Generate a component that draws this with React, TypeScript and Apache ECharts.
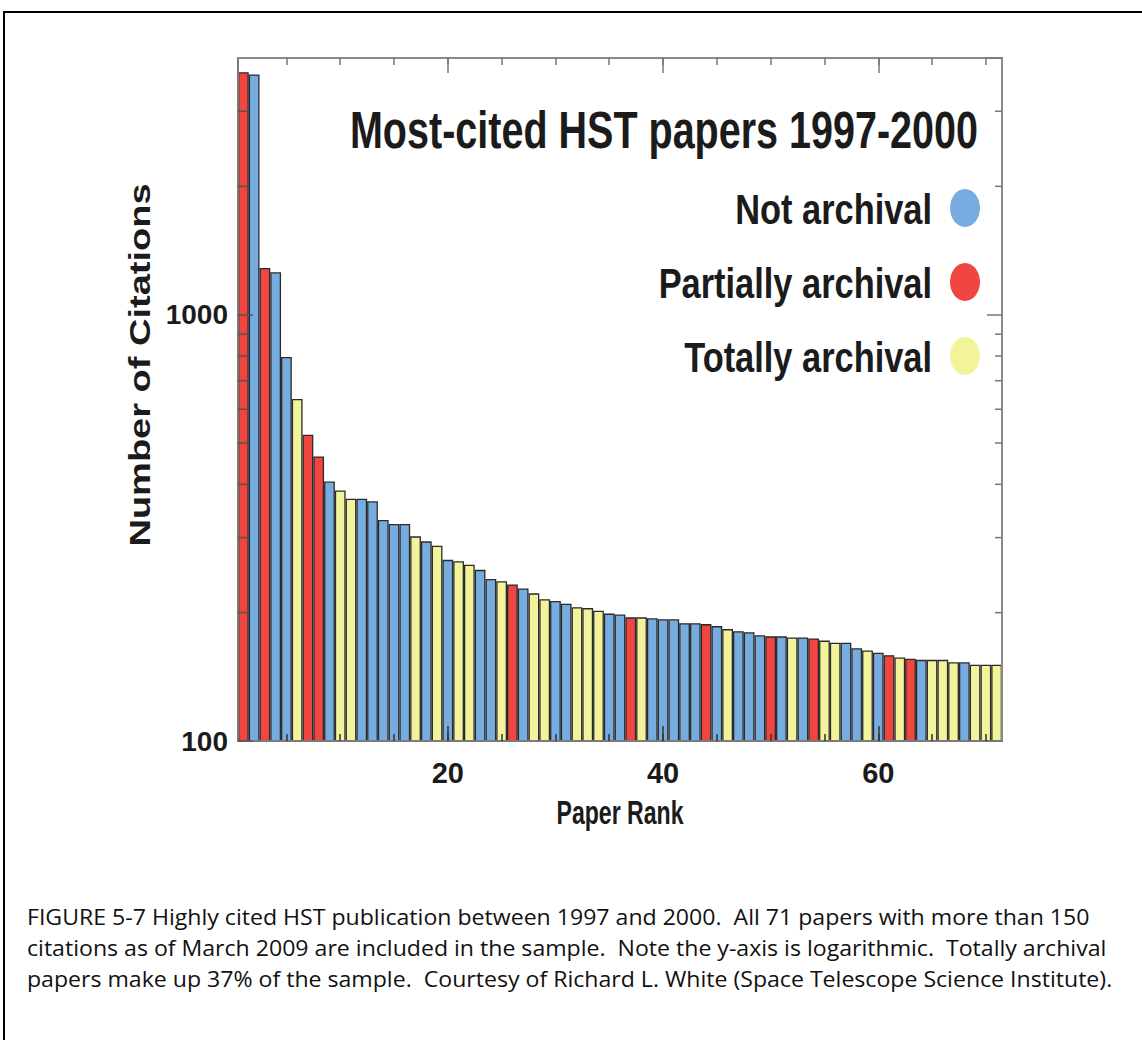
import React, { useEffect, useRef } from "react";
import * as echarts from "echarts";

// Paper rank categories (1..71)
const ranks = [
  "1","2","3","4","5","6","7","8","9","10","11","12","13","14","15","16","17","18","19","20",
  "21","22","23","24","25","26","27","28","29","30","31","32","33","34","35","36","37","38","39","40",
  "41","42","43","44","45","46","47","48","49","50","51","52","53","54","55","56","57","58","59","60",
  "61","62","63","64","65","66","67","68","69","70","71",
];

// Number of citations per paper
const citations = [
  3706, 3660, 1287, 1257, 796, 634, 523, 465, 406, 387,
  370, 370, 365, 330, 323, 323, 302, 294, 287, 266,
  264, 259, 252, 240, 237, 233, 228, 222, 215, 213,
  210, 206, 205, 202, 199, 198, 195, 195, 194, 193,
  193, 189, 189, 188, 186, 183, 181, 180, 177, 176,
  176, 175, 175, 174, 172, 170, 170, 165, 163, 161,
  159, 157, 156, 155, 155, 155, 153, 153, 151, 151,
  151,
];

// Archival status: N = not archival, P = partially archival, T = totally archival
const status = [
  "P","N","P","N","N","T","P","P","N","T",
  "T","N","N","N","N","N","T","N","T","N",
  "T","T","N","N","T","P","N","T","T","N",
  "N","T","T","T","N","N","P","T","N","N",
  "N","N","N","P","N","T","N","N","N","P",
  "N","T","N","P","T","T","N","N","T","N",
  "P","T","P","N","T","T","T","N","T","T",
  "T",
];

const legendKeys = ["N", "P", "T"];
const legendLabels = ["Not archival", "Partially archival", "Totally archival"];
const statusColors: Record<string, string> = { N: "#76ACDF", P: "#EF4642", T: "#F3F39B" };

const yLabelValues = [100, 1000];
const yMinorTicks = [200, 300, 400, 500, 600, 700, 800, 900, 2000, 3000];

const titleText = "Most-cited HST papers 1997-2000";
const xName = "Paper Rank";
const yName = "Number of Citations";
const captionLines = [
  "FIGURE 5-7 Highly cited HST publication between 1997 and 2000.  All 71 papers with more than 150",
  "citations as of March 2009 are included in the sample.  Note the y-axis is logarithmic.  Totally archival",
  "papers make up 37% of the sample.  Courtesy of Richard L. White (Space Telescope Science Institute).",
];

const FONT = '"Liberation Sans", Arial, Helvetica, sans-serif';
const CAPTION_FONT = '"Open Sans", "Liberation Sans", sans-serif';
const TEXT = "#1b1b1b";

export default function App() {
  const ref = useRef<HTMLDivElement>(null);
  useEffect(() => {
    if (!ref.current) return;
    const chart = echarts.init(ref.current, undefined, { renderer: "svg" });

    const barData = citations.map((v, i) => ({
      value: v,
      itemStyle: { color: statusColors[status[i]] },
    }));

    const catAxisBase = {
      type: "category" as const,
      data: ranks,
      boundaryGap: true,
      z: 10,
      axisLabel: { show: false },
      splitLine: { show: false },
    };

    const legendGraphics: any[] = [];
    legendKeys.forEach((k, i) => {
      const cy = 209 + i * 74;
      legendGraphics.push({
        type: "text",
        x: 932,
        y: cy,
        scaleX: 0.8,
        style: {
          text: legendLabels[i],
          font: `bold 43px ${FONT}`,
          fill: TEXT,
          textAlign: "right",
          textVerticalAlign: "middle",
        },
      });
      legendGraphics.push({
        type: "ellipse",
        shape: { cx: 965, cy: cy - 1, rx: 15, ry: 19 },
        style: { fill: statusColors[k] },
      });
    });

    const captionGraphics = captionLines.map((line, i) => ({
      type: "text",
      x: 27,
      y: 916 + i * 31,
      scaleX: 1.1,
      style: {
        text: line,
        font: `21px ${CAPTION_FONT}`,
        fill: "#111",
        textAlign: "left",
        textVerticalAlign: "middle",
      },
    }));

    chart.setOption({
      animation: false,
      backgroundColor: "#ffffff",
      grid: { left: 238, right: 140, top: 58, bottom: 299, containLabel: false },
      xAxis: [
        {
          ...catAxisBase,
          position: "bottom",
          axisLine: { show: true, onZero: false, lineStyle: { color: "#7a7a7a", width: 2 } },
          axisTick: {
            show: true,
            inside: true,
            length: 7,
            alignWithLabel: true,
            interval: (idx: number) => (idx + 1) % 5 === 0,
            lineStyle: { color: "#333", width: 1.5 },
          },
          axisLabel: {
            show: true,
            interval: (idx: number) => (idx + 1) % 20 === 0,
            margin: 17,
            fontFamily: FONT,
            fontWeight: "bold",
            fontSize: 29,
            color: TEXT,
          },
        },
        {
          ...catAxisBase,
          position: "bottom",
          axisLine: { show: false, onZero: false },
          axisTick: {
            show: true,
            inside: true,
            length: 15,
            alignWithLabel: true,
            interval: (idx: number) => (idx + 1) % 20 === 0,
            lineStyle: { color: "#333", width: 1.5 },
          },
        },
        {
          ...catAxisBase,
          position: "top",
          axisLine: { show: true, onZero: false, lineStyle: { color: "#8a8a8a", width: 2 } },
          axisTick: {
            show: true,
            inside: true,
            length: 7,
            alignWithLabel: true,
            interval: (idx: number) => (idx + 1) % 5 === 0,
            lineStyle: { color: "#777", width: 1.5 },
          },
        },
        {
          ...catAxisBase,
          position: "top",
          axisLine: { show: false, onZero: false },
          axisTick: {
            show: true,
            inside: true,
            length: 15,
            alignWithLabel: true,
            interval: (idx: number) => (idx + 1) % 20 === 0,
            lineStyle: { color: "#777", width: 1.5 },
          },
        },
      ],
      yAxis: [
        {
          type: "log",
          logBase: 10,
          min: 100,
          max: 4000,
          position: "left",
          z: 10,
          axisLine: { show: true, lineStyle: { color: "#7a7a7a", width: 2 } },
          axisTick: { show: true, inside: true, length: 15, lineStyle: { color: "#555", width: 1.5 } },
          splitLine: { show: false },
          axisLabel: {
            show: true,
            showMaxLabel: false,
            margin: 10,
            fontFamily: FONT,
            fontWeight: "bold",
            fontSize: 28,
            color: TEXT,
            formatter: (v: number) => {
              const r = Math.round(v);
              return yLabelValues.indexOf(r) >= 0 ? String(r) : "";
            },
          },
        },
        {
          type: "log",
          logBase: 10,
          min: 100,
          max: 4000,
          position: "right",
          z: 10,
          axisLine: { show: true, lineStyle: { color: "#8a8a8a", width: 2 } },
          axisTick: { show: true, inside: true, length: 15, lineStyle: { color: "#777", width: 1.5 } },
          splitLine: { show: false },
          axisLabel: { show: false },
        },
      ],
      series: [
        {
          type: "bar",
          xAxisIndex: 0,
          yAxisIndex: 0,
          data: barData,
          barCategoryGap: "0%",
          barGap: "0%",
          itemStyle: { borderColor: "#2b2b2b", borderWidth: 1.3 },
          silent: true,
          z: 2,
        },
        {
          type: "custom",
          xAxisIndex: 0,
          yAxisIndex: 0,
          clip: false,
          silent: true,
          z: 12,
          encode: { x: 0, y: 1 },
          data: yMinorTicks.map((v) => [0, v]),
          renderItem: (params: any, api: any) => {
            const y = api.coord([0, api.value(1)])[1];
            const cs = params.coordSys;
            return {
              type: "group",
              children: [
                {
                  type: "line",
                  shape: { x1: cs.x, y1: y, x2: cs.x + 9, y2: y },
                  style: { stroke: "#555", lineWidth: 1.5 },
                },
                {
                  type: "line",
                  shape: { x1: cs.x + cs.width - 7, y1: y, x2: cs.x + cs.width, y2: y },
                  style: { stroke: "#777", lineWidth: 1.5 },
                },
              ],
            };
          },
        },
      ],
      graphic: [
        {
          type: "rect",
          shape: { x: 4, y: 12, width: 1400, height: 1400 },
          style: { fill: "none", stroke: "#000", lineWidth: 2 },
          silent: true,
        },
        {
          type: "text",
          x: 978,
          y: 131,
          scaleX: 0.775,
          style: {
            text: titleText,
            font: `bold 51px ${FONT}`,
            fill: TEXT,
            textAlign: "right",
            textVerticalAlign: "middle",
          },
        },
        ...legendGraphics,
        {
          type: "text",
          x: 620,
          y: 812,
          scaleX: 0.7,
          style: {
            text: xName,
            font: `bold 33px ${FONT}`,
            fill: TEXT,
            textAlign: "center",
            textVerticalAlign: "middle",
          },
        },
        {
          type: "text",
          x: 139,
          y: 365,
          rotation: Math.PI / 2,
          scaleY: 0.8,
          style: {
            text: yName,
            font: `bold 38px ${FONT}`,
            fill: TEXT,
            textAlign: "center",
            textVerticalAlign: "middle",
          },
        },
        ...captionGraphics,
      ],
    });

    return () => chart.dispose();
  }, []);

  return (
    <div
      ref={ref}
      style={{ position: "fixed", left: 0, top: 0, width: 1142, height: 1040, background: "#fff" }}
    />
  );
}
